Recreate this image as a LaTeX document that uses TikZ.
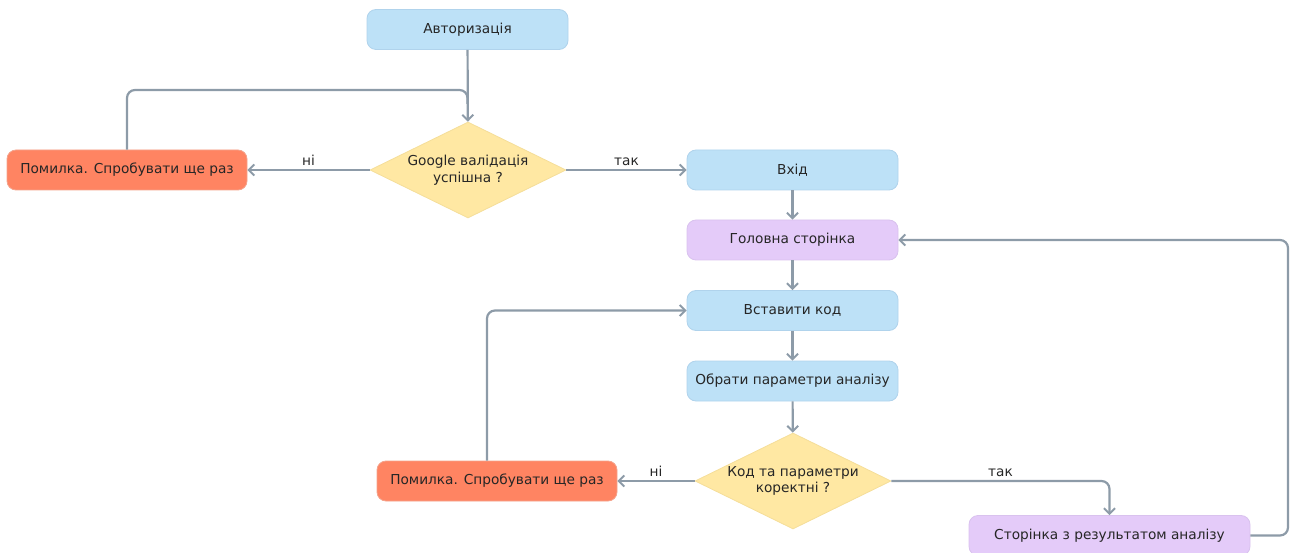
\documentclass[tikz,border=0pt]{standalone}
\usepackage{fontspec}
\setmainfont{DejaVu Sans}
\usetikzlibrary{positioning}
\usetikzlibrary{shapes.geometric}
\usetikzlibrary{arrows.meta}

\definecolor{stepblue}{HTML}{BDE1F7}
\definecolor{stepblueline}{HTML}{B0D3EC}
\definecolor{errred}{HTML}{FF8462}
\definecolor{errredline}{HTML}{F4A38C}
\definecolor{pagelilac}{HTML}{E4CBF9}
\definecolor{pagelilacline}{HTML}{D9C2EE}
\definecolor{askyellow}{HTML}{FFE8A3}
\definecolor{askyellowline}{HTML}{F5DE9A}
\definecolor{linkgray}{HTML}{8D9BA8}

\begin{document}
\begin{tikzpicture}[x=1pt, y=-1pt,
  every node/.style={font=\fontsize{13.7}{16.5}\selectfont, text=black!85},
  stepbox/.style={rectangle, rounded corners=9pt, minimum width=211pt,
    minimum height=40pt, fill=stepblue, draw=stepblueline, line width=0.8pt},
  errbox/.style={stepbox, minimum width=240pt, fill=errred, draw=errredline},
  pagebox/.style={stepbox, fill=pagelilac, draw=pagelilacline},
  askbox/.style={diamond, aspect=2, inner sep=0pt, minimum width=196pt,
    minimum height=96pt, align=center, fill=askyellow, draw=askyellowline,
    line width=0.8pt},
  link/.style={draw=linkgray, line width=2.2pt, rounded corners=8pt},
  arr/.style={link, -{Straight Barb[length=5.5pt, width=11pt, line width=2pt]}},
  answer/.style={above, inner sep=3pt}]
  \useasboundingbox (0,0) rectangle (1298,553);

  % top part
  \node[stepbox, minimum width=201pt] (auth) at (467.5, 29.5) {Авторизація};
  \node[askbox] (google) at (468, 170) {Google валідація\\успішна ?};
  \node[errbox] (err1) at (127, 170) {Помилка. Спробувати ще раз};
  \node[stepbox] (login) at (792.5, 170) {Вхід};

  % main column
  \node[pagebox] (home) at (792.5, 240) {Головна сторінка};
  \node[stepbox] (code) at (792.5, 310.5) {Вставити код};
  \node[stepbox] (params) at (792.5, 381) {Обрати параметри аналізу};
  \node[askbox] (check) at (793, 481) {Код та параметри\\коректні ?};
  \node[errbox] (err2) at (497, 481) {Помилка. Спробувати ще раз};
  \node[pagebox, minimum width=281pt] (result) at (1109.5, 535.5) {Сторінка з результатом аналізу};

  \coordinate (merge) at (467.5, 90);
  \coordinate (back) at (1288, 535.5);

  \draw[arr] (auth) -- (google);
  \draw[link] (err1.north) |- (merge) -- ++(0, 14);
  \draw[arr] (google) -- node[answer] {ні} (err1);
  \draw[arr] (google) -- node[answer] {так} (login);

  \draw[arr] (login) -- (home);
  \draw[arr] (home) -- (code);
  \draw[arr] (code) -- (params);
  \draw[arr] (params) -- (check);

  \draw[arr] (check) -- node[answer] {ні} (err2);
  \draw[arr] ([xshift=-10pt]err2.north) |- (code.west);
  \draw[arr] (check.east) -| node[answer, pos=0.25] {так} (result.north);
  \draw[arr] (result.east) -- (back) |- (home.east);
\end{tikzpicture}
\end{document}
